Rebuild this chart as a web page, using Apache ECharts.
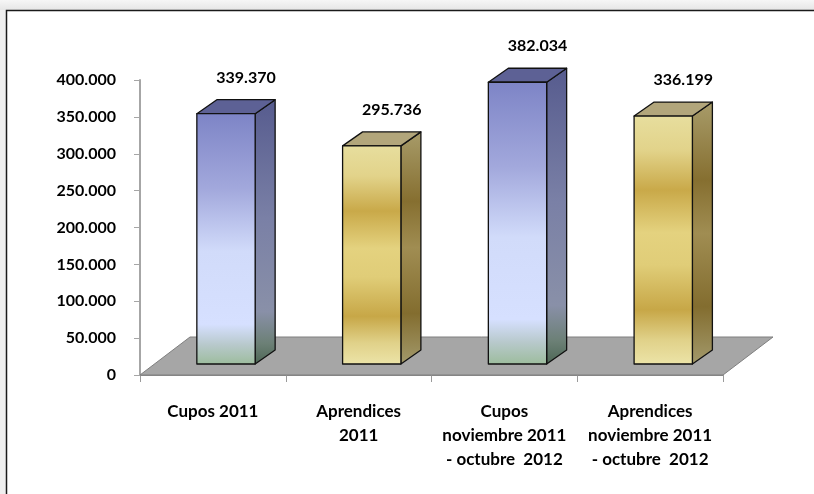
<!DOCTYPE html>
<html>
<head>
<meta charset="utf-8">
<script src="https://cdn.jsdelivr.net/npm/echarts@6/dist/echarts.min.js"></script>
<style>
  html, body { margin: 0; padding: 0; background: #f0f0f0; }
  #chart { width: 814px; height: 494px; }
</style>
</head>
<body>
<div id="chart"></div>
<script>
// Categories and values (thousands separated with a dot)
const categories = [
  'Cupos 2011',
  'Aprendices\n2011',
  'Cupos\nnoviembre 2011\n- octubre  2012',
  'Aprendices\nnoviembre 2011\n- octubre  2012'
];
const values = [339370, 295736, 382034, 336199];
const yMin = 0;
const yMax = 400000;
const yStep = 50000;

function fmt(v) {
  return String(Math.round(v)).replace(/\B(?=(\d{3})+(?!\d))/g, '.');
}

const FONT = 'Lato, "Liberation Sans", sans-serif';
const G = echarts.graphic;

// Face fills for the two bar families
const styles = {
  cupos: {
    front: new G.LinearGradient(0, 0, 0, 1, [
      { offset: 0, color: '#7d84c6' },
      { offset: 0.3, color: '#a2a8dc' },
      { offset: 0.55, color: '#d1dbfa' },
      { offset: 0.84, color: '#d6e0ff' },
      { offset: 0.92, color: '#b8c9cc' },
      { offset: 1, color: '#9cbc9c' }
    ]),
    side: new G.LinearGradient(0, 0, 0, 1, [
      { offset: 0, color: '#565b8e' },
      { offset: 0.45, color: '#7a80a6' },
      { offset: 0.8, color: '#8990a8' },
      { offset: 0.92, color: '#6c8076' },
      { offset: 1, color: '#4c6654' }
    ]),
    top: '#5d6195'
  },
  aprendices: {
    front: new G.LinearGradient(0, 0, 0, 1, [
      { offset: 0, color: '#e7de9e' },
      { offset: 0.14, color: '#e2d38a' },
      { offset: 0.3, color: '#c9a949' },
      { offset: 0.47, color: '#e4d27f' },
      { offset: 0.6, color: '#e0cd78' },
      { offset: 0.78, color: '#c7a747' },
      { offset: 0.9, color: '#e0d189' },
      { offset: 1, color: '#ece4a8' }
    ]),
    side: new G.LinearGradient(0, 0, 0, 1, [
      { offset: 0, color: '#a89c6a' },
      { offset: 0.3, color: '#866f30' },
      { offset: 0.5, color: '#a08d52' },
      { offset: 0.78, color: '#836d2f' },
      { offset: 1, color: '#a39a6c' }
    ]),
    top: '#b2a67b'
  }
};

// Perspective offsets of the 3D box
const DEPTH_X = 20, DEPTH_Y = -14;
const FLOOR_X = 50, FLOOR_Y = -38;
const BASE_LIFT = 11;

function renderBar(params, api) {
  const i = api.value(0);
  const v = api.value(1);
  const base = api.coord([i, 0]);
  const top = api.coord([i, v]);
  const band = api.size([1, 0])[0];
  const xl = base[0] - band * 0.11;
  const xr = xl + band * 0.4;
  const yb = base[1] - BASE_LIFT;
  const yt = top[1] - BASE_LIFT;
  const s = categories[i].indexOf('Cupos') === 0 ? styles.cupos : styles.aprendices;
  const line = { stroke: '#111', lineWidth: 1.3, lineJoin: 'round' };
  return {
    type: 'group',
    children: [
      {
        type: 'polygon',
        shape: { points: [[xr, yt], [xr + DEPTH_X, yt + DEPTH_Y], [xr + DEPTH_X, yb + DEPTH_Y], [xr, yb]] },
        style: Object.assign({ fill: s.side }, line)
      },
      {
        type: 'polygon',
        shape: { points: [[xl, yt], [xl + DEPTH_X, yt + DEPTH_Y], [xr + DEPTH_X, yt + DEPTH_Y], [xr, yt]] },
        style: Object.assign({ fill: s.top }, line)
      },
      {
        type: 'rect',
        shape: { x: xl, y: yt, width: xr - xl, height: yb - yt },
        style: Object.assign({ fill: s.front }, line)
      },
      {
        type: 'text',
        style: {
          x: (xl + xr) / 2 + 20,
          y: yt - 36,
          text: fmt(v),
          fill: '#000',
          font: 'bold 16px ' + FONT,
          align: 'center',
          verticalAlign: 'middle'
        }
      }
    ]
  };
}

function renderFloor(params, api) {
  const band = api.size([1, 0])[0];
  const first = api.coord([0, 0]);
  const last = api.coord([categories.length - 1, 0]);
  const x0 = first[0] - band / 2;
  const x1 = last[0] + band / 2;
  const y = first[1];
  return {
    type: 'polygon',
    shape: { points: [[x0, y], [x0 + FLOOR_X, y + FLOOR_Y], [x1 + FLOOR_X, y + FLOOR_Y], [x1, y]] },
    style: { fill: '#a6a6a6', stroke: '#7f7f7f', lineWidth: 1 }
  };
}

const chart = echarts.init(document.getElementById('chart'), null, { renderer: 'canvas' });
chart.setOption({
  backgroundColor: '#efefef',
  animation: false,
  graphic: [
    {
      type: 'rect', z: -10, silent: true,
      shape: { x: 0, y: 0, width: 814, height: 10 },
      style: { fill: new G.LinearGradient(0, 0, 0, 1, [
        { offset: 0, color: '#f6f6f6' }, { offset: 1, color: '#e6e6e6' }
      ]) }
    },
    {
      type: 'rect', z: -10, silent: true,
      shape: { x: 6, y: 10, width: 808, height: 484 },
      style: { fill: '#ffffff' }
    },
    {
      type: 'polyline', z: -9, silent: true,
      shape: { points: [[6.5, 494], [6.5, 10.5], [814, 10.5]] },
      style: { stroke: '#1a1a1a', lineWidth: 1.5, fill: null }
    }
  ],
  grid: { left: 140, right: 91, top: 80, bottom: 119, containLabel: false },
  xAxis: {
    type: 'category',
    data: categories,
    axisLine: { show: true, lineStyle: { color: '#8c8c8c', width: 1 } },
    axisTick: { show: true, length: 7, lineStyle: { color: '#9a9a9a' } },
    axisLabel: {
      margin: 25,
      color: '#000',
      fontFamily: FONT,
      fontWeight: 'bold',
      fontSize: 17,
      lineHeight: 24,
      interval: 0
    },
    splitLine: { show: false }
  },
  yAxis: {
    type: 'value',
    min: yMin,
    max: yMax,
    interval: yStep,
    axisLine: { show: true, lineStyle: { color: '#a6a6a6', width: 2 } },
    axisTick: { show: true, length: 6, lineStyle: { color: '#a6a6a6' } },
    axisLabel: {
      margin: 24,
      color: '#000',
      fontFamily: FONT,
      fontWeight: 'bold',
      fontSize: 16,
      formatter: fmt
    },
    splitLine: { show: false }
  },
  series: [
    {
      type: 'custom',
      name: 'floor',
      z: 1,
      silent: true,
      renderItem: renderFloor,
      data: [[0, 0]]
    },
    {
      type: 'custom',
      name: 'valores',
      z: 3,
      renderItem: renderBar,
      data: values.map((v, i) => [i, v])
    }
  ]
});
</script>
</body>
</html>
